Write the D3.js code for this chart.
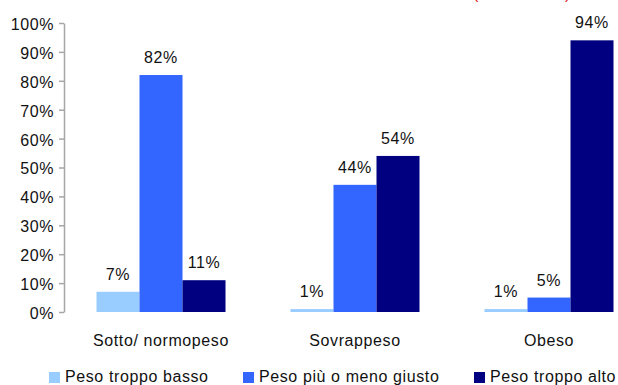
<!DOCTYPE html>
<html>
<head>
<meta charset="utf-8">
<script src="https://cdn.jsdelivr.net/npm/d3@7"></script>
<style>
  html, body { margin: 0; padding: 0; background: #fff; }
  svg { display: block; font-family: "Liberation Sans", Arial, sans-serif; }
  text { letter-spacing: 0.6px; }
</style>
</head>
<body>
<svg id="chart" width="618" height="385"></svg>
<script>
// Perception of own weight by weight class (%)
const categories = ["Sotto/ normopeso", "Sovrappeso", "Obeso"];
const seriesNames = ["Peso troppo basso", "Peso più o meno giusto", "Peso troppo alto"];
const seriesColors = ["#99CCFF", "#3366FF", "#000080"];
const tooLow   = [7, 1, 1];
const aboutRight = [82, 44, 5];
const tooHigh  = [11, 54, 94];
const yTicks = [0, 10, 20, 30, 40, 50, 60, 70, 80, 90, 100];

const seriesValues = [tooLow, aboutRight, tooHigh];

const svg = d3.select("#chart");
const axisX = 64, plotTop = 23, plotBottom = 312;

const x0 = d3.scaleBand().domain(categories).range([axisX, axisX + 582]).paddingInner(0.335).paddingOuter(0.1675);
const x1 = d3.scaleBand().domain(d3.range(seriesNames.length)).range([0, x0.bandwidth()]);
const y = d3.scaleLinear().domain([0, 100]).range([plotBottom, plotTop]);

// Y axis
const yAxis = svg.append("g")
  .attr("transform", `translate(${axisX},0)`)
  .call(d3.axisLeft(y).tickValues(yTicks).tickFormat(d => d + "%").tickSize(5).tickSizeOuter(0).tickPadding(5));
yAxis.select(".domain").attr("stroke", "#A6A6A6").attr("stroke-width", 1.5);
yAxis.selectAll(".tick line").attr("stroke", "#A6A6A6").attr("stroke-width", 1.5);
yAxis.selectAll(".tick text").attr("font-size", 16).attr("fill", "#111").attr("font-family", "Liberation Sans, Arial, sans-serif").attr("dy", "0.4em");

// Bars and value labels
const groups = svg.append("g").selectAll("g")
  .data(categories)
  .join("g")
  .attr("transform", d => `translate(${x0(d)},0)`);

const cells = groups.selectAll("g")
  .data((c, ci) => seriesValues.map((vals, si) => ({ si, v: vals[ci] })))
  .join("g");

cells.append("rect")
  .attr("x", d => x1(d.si))
  .attr("width", x1.bandwidth())
  .attr("y", d => y(d.v))
  .attr("height", d => y(0) - y(d.v))
  .attr("fill", d => seriesColors[d.si]);

cells.append("text")
  .attr("x", d => x1(d.si) + x1.bandwidth() / 2)
  .attr("y", d => y(d.v) - 12)
  .attr("text-anchor", "middle")
  .attr("font-size", 16)
  .attr("fill", "#111")
  .text(d => d.v + "%");

// Category labels
svg.append("g").selectAll("text")
  .data(categories)
  .join("text")
  .attr("x", d => x0(d) + x0.bandwidth() / 2)
  .attr("y", 346)
  .attr("text-anchor", "middle")
  .attr("font-size", 16)
  .attr("fill", "#111")
  .text(d => d);

// Legend
const legendX = [49, 243, 474];
const legend = svg.append("g").selectAll("g")
  .data(seriesNames)
  .join("g")
  .attr("transform", (d, i) => `translate(${legendX[i]},372)`);
legend.append("rect").attr("width", 11).attr("height", 11).attr("fill", (d, i) => seriesColors[i]);
legend.append("text").attr("x", 16).attr("y", 10).attr("font-size", 16).attr("fill", "#111").text(d => d);

// Red bracket marks at the top edge
svg.append("text").attr("x", 473).attr("y", -1).attr("font-size", 16).attr("fill", "#E02020").text("(");
svg.append("text").attr("x", 565).attr("y", -1).attr("font-size", 16).attr("fill", "#E02020").text(")");
</script>
</body>
</html>
